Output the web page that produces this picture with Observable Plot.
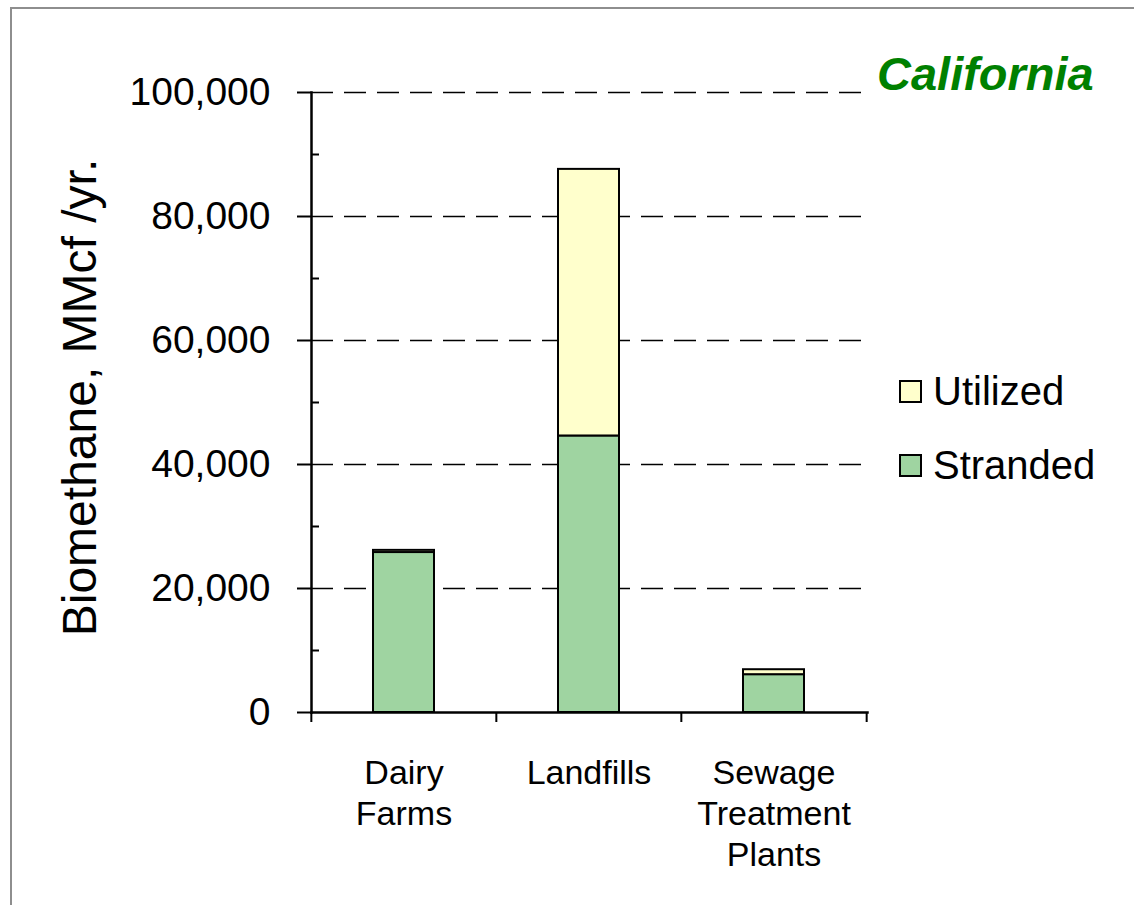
<!DOCTYPE html>
<html>
<head>
<meta charset="utf-8">
<script src="https://cdn.jsdelivr.net/npm/d3@7"></script>
<script src="https://cdn.jsdelivr.net/npm/@observablehq/plot@0.6"></script>
<style>
  html, body { margin: 0; padding: 0; background: #fff; overflow: hidden; }
  #wrap { position: relative; width: 1134px; height: 905px; font-family: "Liberation Sans", Arial, sans-serif; }
  #frame { position: absolute; left: 10px; top: 7px; width: 1200px; height: 1000px; border: 2px solid #8e8e8e; box-sizing: border-box; }
  #chart { position: absolute; left: 0; top: 0; }
  #region { position: absolute; left: 877px; top: 49px; font-size: 47px; font-weight: bold; font-style: italic; color: #008000; line-height: 50px; }
  .key { position: absolute; left: 899px; display: flex; align-items: center; font-size: 40px; color: #000; }
  .key .sw { width: 19px; height: 19px; border: 2px solid #000; margin-right: 11px; }
</style>
</head>
<body>
<div id="wrap">
  <div id="frame"></div>
  <div id="chart"></div>
  <div id="region">California</div>
  <div id="legend"></div>
</div>
<script>
// Biomethane potential by source, California (MMcf per year)
const categories = ["Dairy\nFarms", "Landfills", "Sewage\nTreatment\nPlants"];
const stranded = [25800, 44600, 6100];
const utilized = [350, 43000, 800];
const seriesNames = ["Stranded", "Utilized"];
const seriesColors = ["#9fd4a1", "#ffffcc"];
const majorTicks = [0, 20000, 40000, 60000, 80000, 100000];
const minorTicks = [10000, 30000, 50000, 70000, 90000];
const gridTicks = [20000, 40000, 60000, 80000, 100000];
const yTitle = "Biomethane, MMcf /yr.";

// long-format table: stranded first so it sits at the bottom of each stack
const rows = [
  ...categories.map((c, i) => ({category: c, series: "Stranded", value: stranded[i]})),
  ...categories.map((c, i) => ({category: c, series: "Utilized", value: utilized[i]}))
];

const W = 1134, H = 905;
const mL = 311, mR = 267, mT = 92, mB = 193;
const step = (W - mL - mR) / categories.length;

const chart = Plot.plot({
  width: W,
  height: H,
  marginLeft: mL,
  marginRight: mR,
  marginTop: mT,
  marginBottom: mB,
  style: {fontFamily: "'Liberation Sans', Arial, sans-serif", color: "#000", background: "transparent", overflow: "visible"},
  x: {domain: categories, paddingInner: 0.67, paddingOuter: 0.335, label: null},
  y: {domain: [0, 100000], label: null},
  color: {domain: seriesNames, range: seriesColors},
  marks: [
    Plot.ruleY(gridTicks, {stroke: "#000", strokeWidth: 1.6, strokeDasharray: "22,11"}),
    Plot.barY(rows, {x: "category", y: "value", fill: "series", stroke: "#000", strokeWidth: 2}),
    Plot.frame({anchor: "left", stroke: "#000", strokeWidth: 2.5}),
    Plot.frame({anchor: "bottom", stroke: "#000", strokeWidth: 2.5}),
    Plot.axisY(majorTicks, {tickSize: 14, tickPadding: 27, fontSize: 39, tickFormat: d3.format(","), strokeWidth: 2, label: null}),
    Plot.axisY(minorTicks, {text: null, tickSize: 8, dx: 8, strokeWidth: 2, label: null}),
    Plot.axisX({tickSize: 0, tickPadding: 43, fontSize: 34, lineHeight: 1.2, label: null}),
    Plot.axisX(categories, {text: null, tickSize: 10, dx: -step / 2, strokeWidth: 2, label: null}),
    Plot.axisX([categories[categories.length - 1]], {text: null, tickSize: 10, dx: step / 2, strokeWidth: 2, label: null}),
    // rotated axis title, centred on the plot's left edge
    Plot.text([yTitle], {frameAnchor: "left", textAnchor: "middle", rotate: -90, dx: -231, dy: -5, fontSize: 48, fill: "#000"})
  ]
});
document.getElementById("chart").appendChild(chart);

// legend, top entry is the upper stack segment
const legend = document.getElementById("legend");
const keyTops = {Utilized: 369, Stranded: 443};
[...seriesNames].reverse().forEach(name => {
  const item = document.createElement("div");
  item.className = "key";
  item.style.top = keyTops[name] + "px";
  const sw = document.createElement("div");
  sw.className = "sw";
  sw.style.background = seriesColors[seriesNames.indexOf(name)];
  const label = document.createElement("span");
  label.textContent = name;
  item.append(sw, label);
  legend.appendChild(item);
});
</script>
</body>
</html>
